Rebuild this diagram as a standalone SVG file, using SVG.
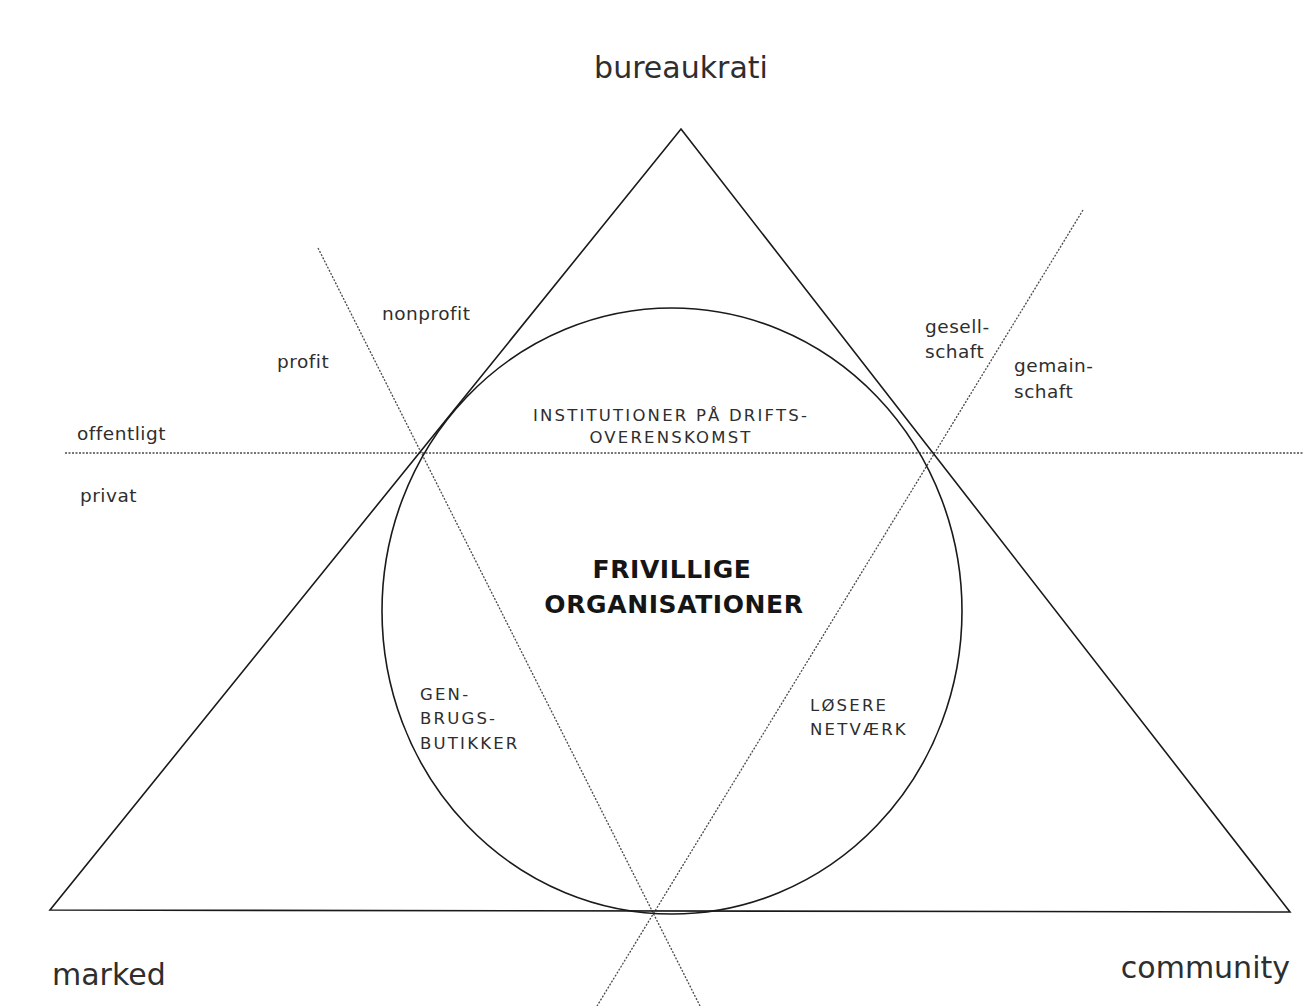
<svg xmlns="http://www.w3.org/2000/svg" width="1304" height="1006" viewBox="0 0 1304 1006">
<style>
.bg{fill:#ffffff}
.solid{fill:none;stroke:#1a1a1a;stroke-width:1.6}
.dot{fill:none;stroke:#4a4a4a;stroke-width:1.3;stroke-dasharray:2 1.5}
.t{font-family:"DejaVu Sans","Liberation Sans",sans-serif;fill:#2e2e2e}
.big{font-size:30px}
.sm{font-size:18.5px;letter-spacing:0.5px}
.cap{font-size:16.5px;letter-spacing:2.2px}
.bold{font-size:25px;font-weight:bold;fill:#151515;letter-spacing:0.6px}
</style>
<rect class="bg" x="0" y="0" width="1304" height="1006"/>
<g id="connectors">
<line class="dot" x1="65" y1="453" x2="1304" y2="453"/>
<line class="dot" x1="318" y1="248" x2="700" y2="1006"/>
<line class="dot" x1="1083" y1="210" x2="597" y2="1006"/>
</g>
<g id="triangle">
<polygon class="solid" points="681,129 1290,912 50,910"/>
</g>
<g id="circle">
<ellipse class="solid" cx="672" cy="611" rx="290" ry="303"/>
</g>
<g id="corner-labels">
<text class="t big" x="681" y="78" text-anchor="middle">bureaukrati</text>
<text class="t big" x="52" y="985">marked</text>
<text class="t big" x="1290" y="978" text-anchor="end">community</text>
</g>
<g id="axis-labels">
<text class="t sm" x="77" y="440">offentligt</text>
<text class="t sm" x="80" y="502">privat</text>
<text class="t sm" x="277" y="368">profit</text>
<text class="t sm" x="382" y="320">nonprofit</text>
<text class="t sm" x="925" y="333">gesell-</text>
<text class="t sm" x="925" y="358">schaft</text>
<text class="t sm" x="1014" y="372">gemain-</text>
<text class="t sm" x="1014" y="398">schaft</text>
</g>
<g id="institutioner">
<text class="t cap" x="671" y="421" text-anchor="middle">INSTITUTIONER PÅ DRIFTS-</text>
<text class="t cap" x="671" y="443" text-anchor="middle">OVERENSKOMST</text>
</g>
<g id="frivillige">
<text class="t bold" x="672" y="578" text-anchor="middle">FRIVILLIGE</text>
<text class="t bold" x="674" y="613" text-anchor="middle">ORGANISATIONER</text>
</g>
<g id="genbrug">
<text class="t cap" x="420" y="700">GEN-</text>
<text class="t cap" x="420" y="724">BRUGS-</text>
<text class="t cap" x="420" y="749">BUTIKKER</text>
</g>
<g id="netvaerk">
<text class="t cap" x="810" y="711">LØSERE</text>
<text class="t cap" x="810" y="735">NETVÆRK</text>
</g>
</svg>
